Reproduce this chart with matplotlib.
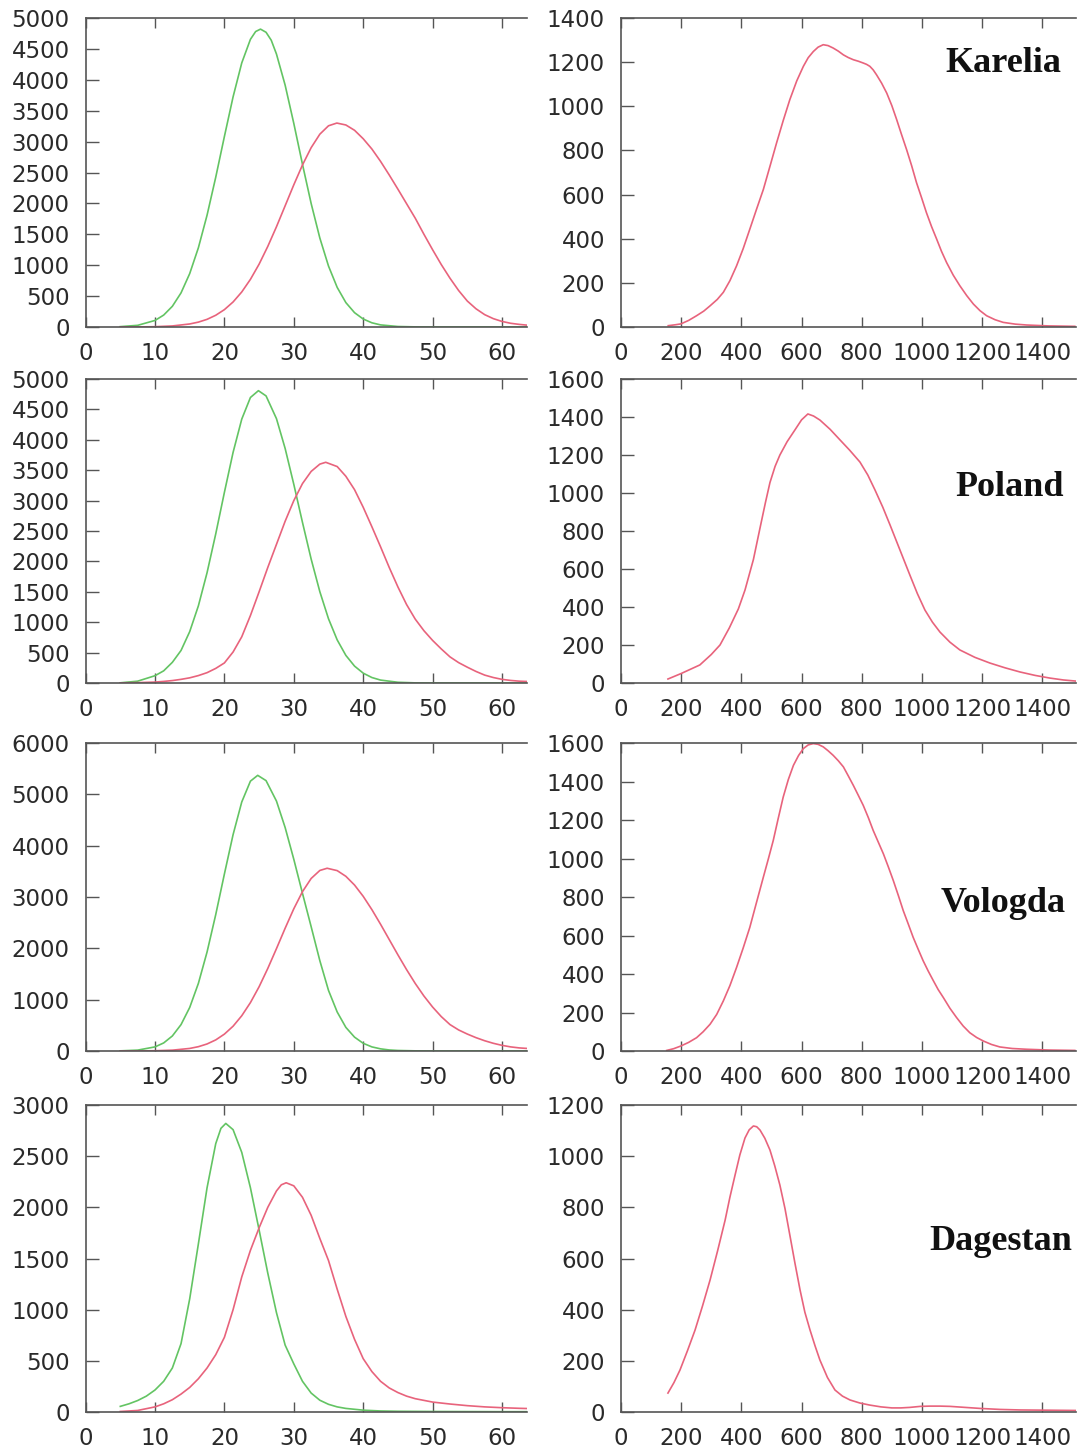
import matplotlib
matplotlib.use("Agg")
import matplotlib.pyplot as plt

# ---------------- data ----------------
regions = ["Karelia", "Poland", "Vologda", "Dagestan"]

# left column: green and red curve per region
karelia_green_x = [5, 7.5, 10, 11.25, 12.5, 13.75, 15, 16.25, 17.5, 18.75, 20, 21.25, 22.5, 23.75, 24.5, 25.2, 26, 26.75, 27.5, 28.75, 30, 31.25, 32.5, 33.75, 35, 36.25, 37.5, 38.75, 40, 41.25, 42.5, 45, 47.5, 50, 55, 60, 63.6]
karelia_green_y = [6, 27, 106, 193, 335, 552, 864, 1282, 1809, 2423, 3083, 3724, 4273, 4655, 4781, 4820, 4769, 4640, 4417, 3914, 3294, 2632, 1998, 1440, 986, 641, 395, 232, 129, 68, 34, 8, 2, 0, 0, 0, 0]
karelia_red_x = [5, 7.5, 10, 12.5, 15, 16.25, 17.5, 18.75, 20, 21.25, 22.5, 23.75, 25, 26.25, 27.5, 28.75, 30, 31.25, 32.5, 33.75, 35, 36.2, 37.5, 38.75, 40, 41.25, 42.5, 43.75, 45, 46.25, 47.5, 48.75, 50, 51.25, 52.5, 53.75, 55, 56.25, 57.5, 58.75, 60, 61.25, 62.5, 63.6]
karelia_red_y = [0, 1, 5, 17, 49, 79, 124, 190, 281, 405, 567, 771, 1017, 1304, 1622, 1961, 2301, 2622, 2902, 3120, 3256, 3300, 3269, 3183, 3046, 2880, 2680, 2460, 2230, 1995, 1760, 1500, 1250, 1010, 790, 590, 420, 295, 200, 135, 90, 60, 42, 30]

poland_green_x = [5, 7.5, 10, 11.25, 12.5, 13.75, 15, 16.25, 17.5, 18.75, 20, 21.25, 22.5, 23.75, 24.9, 26, 27.5, 28.75, 30, 31.25, 32.5, 33.75, 35, 36.25, 37.5, 38.75, 40, 41.25, 42.5, 45, 47.5, 50, 55, 60, 63.6]
poland_green_y = [3, 30, 120, 200, 340, 535, 845, 1269, 1814, 2452, 3136, 3793, 4340, 4696, 4808, 4722, 4348, 3858, 3267, 2641, 2038, 1502, 1056, 709, 454, 278, 162, 90, 48, 12, 2, 0, 0, 0, 0]
poland_red_x = [5, 7.5, 10, 11.25, 12.5, 13.75, 15, 16.25, 17.5, 18.75, 20, 21.25, 22.5, 23.75, 25, 26.25, 27.5, 28.75, 30, 31.25, 32.5, 33.75, 34.6, 36.25, 37.5, 38.75, 40, 41.25, 42.5, 43.75, 45, 46.25, 47.5, 48.75, 50, 51.25, 52.5, 53.75, 55, 56.25, 57.5, 58.75, 60, 61.25, 62.5, 63.6]
poland_red_y = [2, 6, 15, 26, 40, 60, 85, 122, 170, 240, 330, 510, 760, 1110, 1500, 1900, 2280, 2660, 3000, 3280, 3480, 3600, 3630, 3560, 3400, 3180, 2890, 2570, 2240, 1900, 1580, 1290, 1050, 860, 700, 560, 430, 335, 260, 190, 130, 90, 60, 42, 30, 25]

vologda_green_x = [5, 7.5, 10, 11.25, 12.5, 13.75, 15, 16.25, 17.5, 18.75, 20, 21.25, 22.5, 23.75, 24.8, 26, 27.5, 28.75, 30, 31.25, 32.5, 33.75, 35, 36.25, 37.5, 38.75, 40, 41.25, 42.5, 43.75, 45, 47.5, 50, 55, 60, 63.6]
vologda_green_y = [3, 17, 80, 157, 293, 514, 848, 1317, 1928, 2657, 3449, 4215, 4851, 5257, 5370, 5267, 4869, 4354, 3734, 3071, 2421, 1760, 1180, 760, 460, 270, 150, 80, 42, 20, 10, 3, 0, 0, 0, 0]
vologda_red_x = [5, 7.5, 10, 12.5, 15, 16.25, 17.5, 18.75, 20, 21.25, 22.5, 23.75, 25, 26.25, 27.5, 28.75, 30, 31.25, 32.5, 33.75, 34.8, 36.25, 37.5, 38.75, 40, 41.25, 42.5, 43.75, 45, 46.25, 47.5, 48.75, 50, 51.25, 52.5, 53.75, 55, 56.25, 57.5, 58.75, 60, 61.25, 62.5, 63.6]
vologda_red_y = [1, 2, 5, 16, 50, 84, 137, 216, 329, 483, 687, 943, 1252, 1608, 1994, 2391, 2771, 3104, 3361, 3517, 3560, 3514, 3403, 3233, 3013, 2754, 2469, 2171, 1873, 1585, 1315, 1071, 856, 670, 515, 410, 330, 260, 200, 150, 110, 80, 60, 50]

dagestan_green_x = [5, 6.25, 7.5, 8.75, 10, 11.25, 12.5, 13.75, 15, 16.25, 17.5, 18.75, 19.5, 20.2, 21.25, 22.5, 23.75, 25, 26.25, 27.5, 28.75, 30, 31.25, 32.5, 33.75, 35, 36.25, 37.5, 40, 42.5, 45, 50, 55, 60, 63.6]
dagestan_green_y = [55, 80, 112, 155, 215, 300, 430, 668, 1106, 1643, 2191, 2622, 2772, 2820, 2759, 2537, 2191, 1779, 1357, 971, 654, 470, 300, 185, 115, 75, 50, 35, 18, 10, 7, 5, 4, 3, 3]
dagestan_red_x = [5, 7.5, 10, 11.25, 12.5, 13.75, 15, 16.25, 17.5, 18.75, 20, 21.25, 22.5, 23.75, 25, 26.25, 27.5, 28.2, 28.9, 30, 31.25, 32.5, 33.75, 35, 36.25, 37.5, 38.75, 40, 41.25, 42.5, 43.75, 45, 46.25, 47.5, 50, 52.5, 55, 57.5, 60, 62.5, 63.6]
dagestan_red_y = [5, 15, 50, 80, 120, 175, 240, 325, 430, 560, 730, 1000, 1320, 1580, 1800, 2000, 2160, 2220, 2240, 2210, 2098, 1922, 1696, 1480, 1200, 934, 710, 521, 395, 300, 235, 190, 155, 130, 97, 78, 62, 50, 42, 36, 34]

# right column: one curve per region
karelia_r_x = [157, 180, 199, 225, 251, 275, 296, 320, 340, 362, 384, 406, 428, 450, 473, 495, 517, 539, 561, 584, 606, 622, 639, 655, 672, 688, 705, 722, 739, 755, 772, 789, 805, 816, 827, 838, 849, 866, 883, 900, 916, 932, 949, 966, 982, 999, 1015, 1032, 1049, 1065, 1082, 1104, 1126, 1149, 1171, 1193, 1215, 1243, 1270, 1310, 1348, 1420, 1508]
karelia_r_y = [6, 10, 14, 30, 51, 72, 96, 125, 157, 210, 277, 355, 443, 532, 623, 728, 834, 935, 1030, 1115, 1181, 1220, 1248, 1268, 1279, 1275, 1264, 1250, 1233, 1221, 1211, 1204, 1196, 1190, 1181, 1165, 1143, 1105, 1060, 1003, 940, 873, 804, 730, 654, 585, 518, 455, 398, 343, 292, 235, 187, 142, 104, 74, 51, 33, 21, 13, 9, 5, 3]

poland_r_x = [156, 200, 262, 300, 329, 360, 390, 412, 440, 462, 480, 495, 512, 528, 552, 578, 600, 621, 640, 661, 695, 728, 760, 794, 820, 844, 870, 894, 927, 960, 985, 1010, 1035, 1060, 1093, 1126, 1176, 1226, 1276, 1326, 1376, 1425, 1470, 1512]
poland_r_y = [21, 50, 95, 150, 200, 290, 390, 489, 650, 816, 950, 1055, 1140, 1200, 1270, 1332, 1385, 1416, 1405, 1384, 1335, 1279, 1225, 1163, 1095, 1016, 925, 832, 700, 568, 470, 384, 320, 268, 215, 174, 135, 105, 80, 58, 40, 26, 16, 10]

vologda_r_x = [152, 175, 199, 225, 251, 273, 296, 318, 340, 362, 384, 406, 428, 450, 473, 490, 506, 522, 539, 556, 573, 590, 606, 622, 639, 655, 672, 688, 705, 722, 739, 755, 772, 788, 805, 822, 838, 855, 872, 888, 905, 922, 938, 955, 971, 988, 1004, 1021, 1038, 1054, 1071, 1093, 1115, 1137, 1159, 1182, 1204, 1231, 1259, 1300, 1348, 1420, 1508]
vologda_r_y = [3, 12, 26, 45, 69, 100, 139, 190, 260, 340, 434, 535, 642, 770, 903, 1000, 1094, 1205, 1319, 1410, 1484, 1535, 1571, 1590, 1597, 1593, 1580, 1560, 1536, 1508, 1476, 1430, 1380, 1330, 1276, 1212, 1146, 1085, 1024, 958, 885, 806, 729, 658, 590, 527, 469, 415, 365, 319, 278, 222, 174, 130, 95, 70, 52, 34, 21, 13, 9, 5, 3]

dagestan_r_x = [156, 176, 196, 221, 246, 271, 296, 321, 346, 362, 379, 395, 412, 426, 440, 451, 462, 478, 495, 511, 528, 545, 561, 578, 595, 611, 628, 645, 661, 686, 711, 736, 761, 794, 827, 864, 900, 930, 960, 995, 1027, 1060, 1093, 1143, 1193, 1260, 1326, 1420, 1512]
dagestan_r_y = [74, 115, 164, 240, 320, 415, 516, 630, 750, 840, 926, 1005, 1071, 1103, 1118, 1115, 1102, 1070, 1024, 962, 887, 795, 692, 582, 477, 390, 321, 258, 203, 135, 86, 62, 47, 35, 27, 20, 16, 16, 18, 22, 23, 23, 22, 18, 14, 10, 8, 7, 6]

left_curves = [
    (karelia_green_x, karelia_green_y, karelia_red_x, karelia_red_y),
    (poland_green_x, poland_green_y, poland_red_x, poland_red_y),
    (vologda_green_x, vologda_green_y, vologda_red_x, vologda_red_y),
    (dagestan_green_x, dagestan_green_y, dagestan_red_x, dagestan_red_y),
]
right_curves = [
    (karelia_r_x, karelia_r_y),
    (poland_r_x, poland_r_y),
    (vologda_r_x, vologda_r_y),
    (dagestan_r_x, dagestan_r_y),
]
left_ymax = [5000, 5000, 6000, 3000]
left_ystep = [500, 500, 1000, 500]
right_ymax = [1400, 1600, 1600, 1200]
right_ystep = [200, 200, 200, 200]

# ---------------- layout ----------------
W, H = 1086, 1449
rows_px = [(18, 327), (379, 683), (743, 1051), (1105, 1412)]
left_px = (85.6, 527)
right_px = (621, 1076)
label_px = [(1003, 64), (1010, 487), (1003, 903), (1001, 1241)]

GREEN = "#63c463"
RED = "#e8637c"
SPINE = "#555555"
TXT = "#2a2a2a"

fig = plt.figure(figsize=(W / 100, H / 100), dpi=100)
fig.patch.set_facecolor("white")


def make_ax(xpx, ypx):
    x0, x1 = xpx
    top, bot = ypx
    return fig.add_axes([x0 / W, 1 - bot / H, (x1 - x0) / W, (bot - top) / H])


def style(ax):
    ax.spines["right"].set_visible(False)
    for s in ("left", "top", "bottom"):
        ax.spines[s].set_color(SPINE)
        ax.spines[s].set_linewidth(1.2)
    ax.tick_params(axis="x", which="both", direction="in", top=True, bottom=True,
                   length=7.5, width=1.0, color=SPINE, labelsize=16.5,
                   labelcolor=TXT, pad=11)
    ax.tick_params(axis="y", which="both", direction="in", left=True, right=False,
                   length=9, width=1.0, color=SPINE, labelsize=16.5,
                   labelcolor=TXT, pad=11.5)
    for lab in ax.get_xticklabels() + ax.get_yticklabels():
        lab.set_family("DejaVu Sans")


for i in range(4):
    # left panel
    ax = make_ax(left_px, rows_px[i])
    gx, gy, rx, ry = left_curves[i]
    ax.plot(gx, gy, color=GREEN, lw=1.2, solid_joinstyle="round")
    ax.plot(rx, ry, color=RED, lw=1.2, solid_joinstyle="round")
    ax.set_xlim(0, 63.6)
    ax.set_ylim(0, left_ymax[i])
    ax.set_xticks(range(0, 61, 10))
    ax.set_yticks(range(0, left_ymax[i] + 1, left_ystep[i]))
    style(ax)

    # right panel
    ax = make_ax(right_px, rows_px[i])
    x, y = right_curves[i]
    ax.plot(x, y, color=RED, lw=1.2, solid_joinstyle="round")
    ax.set_xlim(0, 1512)
    ax.set_ylim(0, right_ymax[i])
    ax.set_xticks(range(0, 1401, 200))
    ax.set_yticks(range(0, right_ymax[i] + 1, right_ystep[i]))
    style(ax)

    lx, ly = label_px[i]
    fig.text(lx / W, 1 - ly / H, regions[i], ha="center", va="center",
             family="Liberation Serif", weight="bold", size=26, color="#111111")

fig.savefig("out.png", dpi=100, facecolor="white")
